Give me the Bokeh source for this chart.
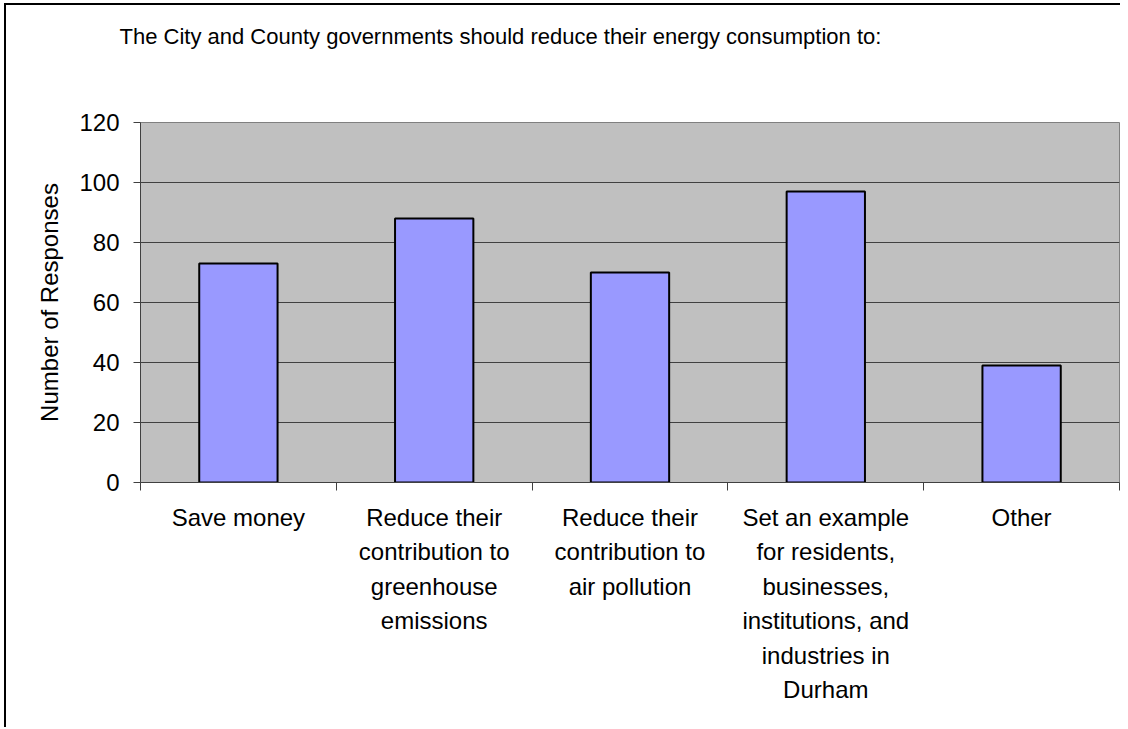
from bokeh.plotting import figure
from bokeh.models import Range1d, FixedTicker, Title
from bokeh.embed import file_html
from bokeh.resources import INLINE

categories = [
    "Save money",
    "Reduce their\ncontribution to\ngreenhouse\nemissions",
    "Reduce their\ncontribution to\nair pollution",
    "Set an example\nfor residents,\nbusinesses,\ninstitutions, and\nindustries in\nDurham",
    "Other",
]
responses = [73, 88, 70, 97, 39]
y_ticks = [0, 20, 40, 60, 80, 100, 120]

title_text = "The City and County governments should reduce their energy consumption to:"
y_label = "Number of Responses"

FONT = "Liberation Sans"
FS = "24px"

n = len(categories)
xs = [i + 0.5 for i in range(n)]
bounds = [float(i) for i in range(n + 1)]

p = figure(
    width=1120, height=724,
    output_backend="svg", toolbar_location=None,
    x_range=Range1d(0, n), y_range=Range1d(y_ticks[0], y_ticks[-1]),
    min_border_left=134, min_border_right=7, min_border_top=117, min_border_bottom=247,
)
# outer chart border: only its left and top edges fall inside the picture
p.styles = {"margin-left": "6px", "margin-top": "5px",
            "box-shadow": "-2px -2px 0px 0px black",
            "clip-path": "inset(-2px 6px -20px -2px)"}

p.background_fill_color = "#C0C0C0"
p.border_fill_color = "white"
p.outline_line_color = "#808080"
p.outline_line_width = 1

p.vbar(x=xs, top=responses, width=0.4, bottom=0,
       fill_color="#9999FF", line_color="black", line_width=2)

# spacer between frame and title, then the title itself
p.add_layout(Title(text=" ", text_font_size="1px", standoff=71), "above")
t = Title(text=title_text, align="left", offset=-21, standoff=0,
          text_font=FONT, text_font_size="22px", text_font_style="normal",
          text_color="black")
p.add_layout(t, "above")

# x axis
xa = p.xaxis[0]
xa.ticker = FixedTicker(ticks=xs, minor_ticks=bounds)
xa.major_label_overrides = {x: c for x, c in zip(xs, categories)}
xa.major_tick_out = 0
xa.major_tick_in = 0
xa.minor_tick_out = 8
xa.minor_tick_in = 0
xa.minor_tick_line_color = "#404040"
xa.axis_line_color = "#404040"
xa.major_label_text_font = FONT
xa.major_label_text_font_size = FS
xa.major_label_text_color = "black"
xa.major_label_standoff = 13
xa.major_label_text_line_height = 1.28

# y axis
ya = p.yaxis[0]
ya.ticker = FixedTicker(ticks=y_ticks)
ya.minor_tick_line_color = None
ya.major_tick_out = 7
ya.major_tick_in = 0
ya.major_tick_line_color = "#404040"
ya.axis_line_color = "#404040"
ya.major_label_text_font = FONT
ya.major_label_text_font_size = FS
ya.major_label_text_color = "black"
ya.major_label_standoff = 14
ya.axis_label = y_label
ya.axis_label_text_font = FONT
ya.axis_label_text_font_size = FS
ya.axis_label_text_font_style = "normal"
ya.axis_label_text_color = "black"
ya.axis_label_standoff = 13

p.xgrid.grid_line_color = None
p.ygrid.grid_line_color = "#404040"
p.ygrid.grid_line_width = 1

open("out.html", "w").write(file_html(p, INLINE))
